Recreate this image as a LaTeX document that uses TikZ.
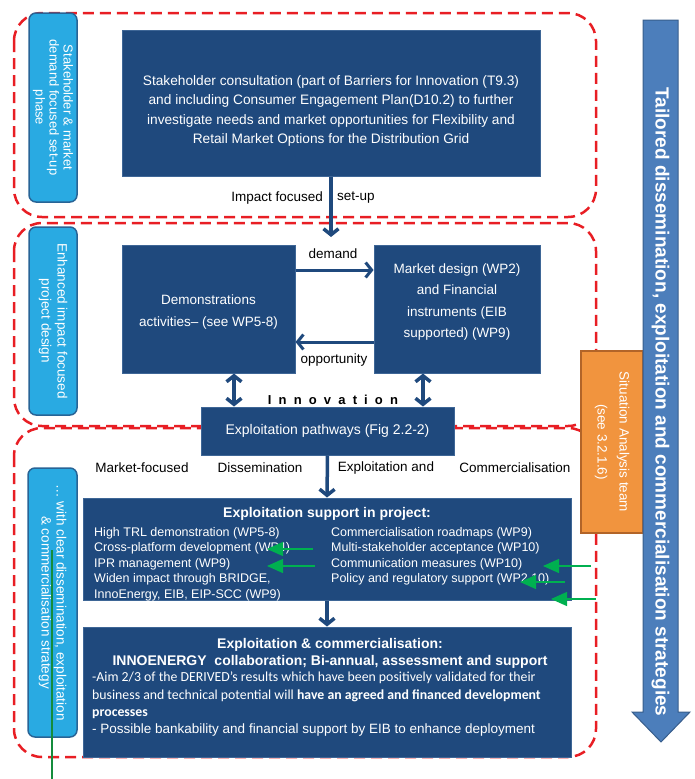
\documentclass[tikz,border=0pt]{standalone}
\usepackage{fontspec}
\setmainfont{Liberation Sans}
\newfontfamily\calfont{Carlito}
\usetikzlibrary{arrows.meta}

\definecolor{navy}{RGB}{31,73,125}
\definecolor{navyedge}{RGB}{62,102,150}
\definecolor{lblue}{RGB}{41,170,226}
\definecolor{lblueedge}{RGB}{40,100,150}
\definecolor{reddash}{RGB}{232,30,36}
\definecolor{sitorange}{RGB}{241,148,62}
\definecolor{sitedge}{RGB}{178,100,40}
\definecolor{bigblue}{RGB}{76,126,187}
\definecolor{bigedge}{RGB}{56,94,140}
\definecolor{greenarr}{RGB}{0,176,80}
\definecolor{greenline}{RGB}{20,140,60}

\begin{document}
\begin{tikzpicture}[x=1pt, y=-1pt,
    phase/.style={draw=reddash, line width=2.5pt, dash pattern=on 11pt off 6pt, rounded corners=28pt},
    tag/.style={draw=lblueedge, fill=lblue, line width=1.5pt, rounded corners=7pt, rotate=-90,
        text=white, align=center, inner sep=0pt, font=\fontsize{13}{14}\selectfont},
    box/.style={draw=navyedge, fill=navy, line width=1pt, text=white, align=center, inner sep=0pt,
        font=\fontsize{13.5}{21.5}\selectfont},
    txt/.style={inner sep=0pt, font=\fontsize{13.5}{16}\selectfont},
    flow/.style={draw=navy, line width=3.5pt, -{Straight Barb[length=6pt, width=15pt]}},
    both/.style={draw=navy, line width=3.5pt, {Straight Barb[length=6pt, width=15pt]}-{Straight Barb[length=6pt, width=15pt]}},
    greenarrow/.style={draw=greenarr, line width=1.3pt, -{Triangle[length=16pt, width=14pt]}}]

\useasboundingbox (0,0) rectangle (694,779);

% phases
\draw[phase] (14,13) rectangle (596,217);
\draw[phase] (14,223) rectangle (596,426);
\draw[phase] (14,428) rectangle (596,757);

\node[tag, minimum width=189pt, minimum height=48pt] (tag1) at (53,107.5) {Stakeholder \& market\\demand focused set-up\\phase};
\node[tag, minimum width=188pt, minimum height=48pt, font=\fontsize{13.5}{16}\selectfont] (tag2) at (53,321) {Enhanced impact focused\\project design};
\node[tag, minimum width=269pt, minimum height=49pt, font=\fontsize{13.5}{15}\selectfont] (tag3) at (52.5,602.5) {… with clear dissemination, exploitation\\\& commercialisation strategy};

% boxes
\node[box, minimum width=418pt, minimum height=146pt] (consult) at (331,103) {};
\node[txt, text=white, align=center, font=\fontsize{13.7}{19.2}\selectfont] (consulttext) at (331,111)
    {Stakeholder consultation (part of Barriers for Innovation (T9.3)\\
     and including Consumer Engagement Plan(D10.2) to further\\
     investigate needs and market opportunities for Flexibility and\\
     Retail Market Options for the Distribution Grid};
\node[box, minimum width=173pt, minimum height=128pt] (demo) at (208.5,309) {};
\node[txt, text=white, align=center, font=\fontsize{13.5}{21.5}\selectfont] (demotext) at (208.5,312)
    {Demonstrations\\activities– (see WP5-8)};
\node[box, minimum width=166pt, minimum height=128pt] (market) at (457,309) {};
\node[txt, text=white, align=center, font=\fontsize{13.5}{21.5}\selectfont] (markettext) at (457,302)
    {Market design (WP2)\\and Financial\\instruments (EIB\\supported) (WP9)};
\node[box, minimum width=253pt, minimum height=48pt, font=\fontsize{14}{16}\selectfont] (pathways) at (327.5,431)
    {Exploitation pathways (Fig 2.2-2)};
\node[box, minimum width=488pt, minimum height=102pt] (support) at (327,549) {};
\node[box, minimum width=488pt, minimum height=130pt] (commerce) at (327,692) {};

\node[txt, text=white, font=\fontsize{14}{16}\selectfont\bfseries] (suptitle) at (327,514) {Exploitation support in project:};
\node[txt, text=white, anchor=north west, align=left, font=\fontsize{12.5}{15.5}\selectfont] (supleft) at (94,527)
    {High TRL demonstration (WP5-8)\\Cross-platform development (WP4)\\IPR management (WP9)\\Widen impact through BRIDGE,\\InnoEnergy, EIB, EIP-SCC (WP9)};
\node[txt, text=white, anchor=north west, align=left, font=\fontsize{12.5}{15.5}\selectfont] (supright) at (331,527)
    {Commercialisation roadmaps (WP9)\\Multi-stakeholder acceptance (WP10)\\Communication measures (WP10)\\Policy and regulatory support (WP2,10)};

\node[txt, text=white, anchor=north, align=center, font=\fontsize{14}{17}\selectfont\bfseries] (comtitle) at (330,638)
    {Exploitation \& commercialisation:\\INNOENERGY\ \ collaboration; Bi-annual, assessment and support};
\node[txt, text=white, anchor=north west, align=left, font=\calfont\fontsize{13.8}{17.3}\selectfont] (combody) at (92,672)
    {-Aim 2/3 of the DERIVED’s results which have been positively validated for their\\
     business and technical potential will \textbf{have an agreed and financed development}\\
     \textbf{processes}\\
     \normalfont\fontsize{13.5}{17.3}\selectfont - Possible bankability and financial support by EIB to enhance deployment};

% connectors
\coordinate (setupend) at (331,237);
\coordinate (dem) at (0,270);
\coordinate (opp) at (0,342);
\coordinate (innl) at (234,0);
\coordinate (innr) at (423,0);

\draw[flow] (consult.south) -- (setupend);
\node[txt, anchor=east] (impact) at (323,198) {Impact focused};
\node[txt, anchor=west] (setup) at (337,198) {set-up};

\draw[flow, line width=3pt] (demo.east |- dem) -- (market.west |- dem);
\draw[flow, line width=3pt] (market.west |- opp) -- (demo.east |- opp);
\node[txt] (demand) at (333,254) {demand};
\node[txt] (opportunity) at (334,360) {opportunity};

\draw[both] (demo.south -| innl) -- (pathways.north -| innl);
\draw[both] (market.south -| innr) -- (pathways.north -| innr);
\node[txt, font=\fontsize{13}{13}\selectfont\bfseries\addfontfeature{LetterSpace=55}] (innovation) at (333,400) {Innovation};

\draw[flow] (pathways.south) -- (support.north);
\draw[flow] (support.south) -- (commerce.north);

\node[txt] (mfocus) at (142,468) {Market-focused};
\node[txt] (dissem) at (260,468) {Dissemination};
\node[txt] (exploit) at (386,468) {Exploitation and};
\node[txt] (commerc) at (515,468) {Commercialisation};

% situation analysis
\node[draw=sitedge, fill=sitorange, line width=2.5pt, rotate=-90, minimum width=182pt, minimum height=62pt,
    text=white, align=center, inner sep=0pt, font=\fontsize{13.5}{22}\selectfont] (situation) at (612,442)
    {Situation Analysis team\\(see 3.2.1.6)};

% big arrow
\filldraw[fill=bigblue, draw=bigedge, line width=1pt] (643,20) -- (678,20) -- (678,712) -- (690,712)
    -- (661,742) -- (632,712) -- (643,712) -- cycle;
\node[txt, rotate=-90, text=white, font=\fontsize{19}{19}\selectfont\bfseries] (tailored) at (660.5,402)
    {Tailored dissemination, exploitation and commercialisation strategies};

% green marks
\foreach \n/\xa/\xb/\yy in {1/313/267/549, 2/315/267/566, 3/591/543/566, 4/565/520/582, 5/596/551/599} {
    \coordinate (gs\n) at (\xa,\yy);
    \coordinate (ge\n) at (\xb,\yy);
    \draw[greenarrow] (gs\n) -- (ge\n);
}
\coordinate (gtop) at (52,550);
\coordinate (gbot) at (52,779);
\draw[greenline, line width=2pt] (gtop) -- (gbot);

\end{tikzpicture}
\end{document}
